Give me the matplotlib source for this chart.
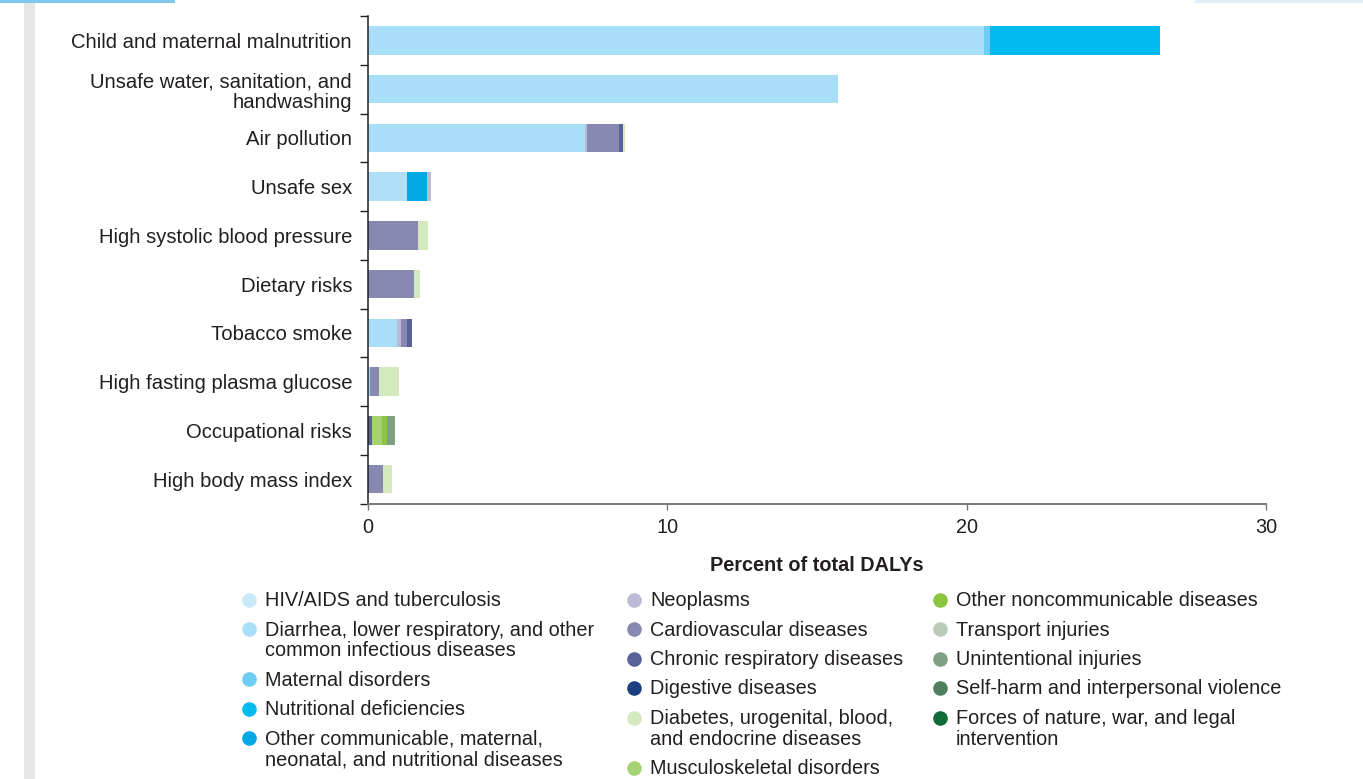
import numpy as np
import matplotlib.pyplot as plt
from matplotlib.patches import Rectangle
from matplotlib.lines import Line2D

plt.rcParams['font.family'] = ['Liberation Sans', 'DejaVu Sans']

W, H = 1363, 779

risks = ['Child and maternal malnutrition',
         'Unsafe water, sanitation, and\nhandwashing',
         'Air pollution',
         'Unsafe sex',
         'High systolic blood pressure',
         'Dietary risks',
         'Tobacco smoke',
         'High fasting plasma glucose',
         'Occupational risks',
         'High body mass index']

# percent of total DALYs, one list per cause, in risk order
hiv_tb        = [0, 0, 0, 1.30, 0, 0, 0, 0, 0, 0]
diarrhea      = [20.57, 15.69, 7.25, 0, 0, 0, 0.98, 0.06, 0, 0]
maternal      = [0.20, 0, 0, 0, 0, 0, 0, 0, 0, 0]
nutritional   = [5.69, 0, 0, 0, 0, 0, 0, 0, 0, 0]
other_comm    = [0, 0, 0, 0.67, 0, 0, 0, 0, 0, 0]
neoplasms     = [0, 0, 0.05, 0.15, 0, 0, 0.11, 0, 0, 0]
cardio        = [0, 0, 1.10, 0, 1.67, 1.53, 0.22, 0.30, 0, 0.50]
chronic_resp  = [0, 0, 0.12, 0, 0, 0, 0.15, 0, 0.15, 0]
digestive     = [0, 0, 0, 0, 0, 0, 0, 0, 0, 0]
diabetes      = [0, 0, 0.05, 0, 0.33, 0.22, 0, 0.66, 0, 0.29]
musculo       = [0, 0, 0, 0, 0, 0, 0, 0, 0.32, 0]
other_ncd     = [0, 0, 0, 0, 0, 0, 0, 0, 0.18, 0]
transport     = [0, 0, 0, 0, 0, 0, 0, 0, 0, 0]
unintentional = [0, 0, 0, 0, 0, 0, 0, 0, 0.26, 0]
self_harm     = [0, 0, 0, 0, 0, 0, 0, 0, 0, 0]
forces        = [0, 0, 0, 0, 0, 0, 0, 0, 0, 0]

causes = ['HIV/AIDS and tuberculosis',
          'Diarrhea, lower respiratory, and other\ncommon infectious diseases',
          'Maternal disorders',
          'Nutritional deficiencies',
          'Other communicable, maternal,\nneonatal, and nutritional diseases',
          'Neoplasms',
          'Cardiovascular diseases',
          'Chronic respiratory diseases',
          'Digestive diseases',
          'Diabetes, urogenital, blood,\nand endocrine diseases',
          'Musculoskeletal disorders',
          'Other noncommunicable diseases',
          'Transport injuries',
          'Unintentional injuries',
          'Self-harm and interpersonal violence',
          'Forces of nature, war, and legal\nintervention']
values = [hiv_tb, diarrhea, maternal, nutritional, other_comm, neoplasms, cardio,
          chronic_resp, digestive, diabetes, musculo, other_ncd, transport,
          unintentional, self_harm, forces]
colors = ['#c8e9f9', '#a9def8', '#6dcdf2', '#00bbf0', '#00a8e4',
          '#babbd6', '#8789b0', '#58629a', '#1c3f7f',
          '#d4e9bd', '#a6d274', '#8cc63f',
          '#b9cbb7', '#7fa182', '#4f7f5e', '#0f6b39']
# the HIV segment prints a shade darker than its legend dot
bar_colors = ['#b0e0f8'] + colors[1:]

txt = '#231f20'
fs = 14.3

fig = plt.figure(figsize=(W / 100, H / 100), dpi=100)
ax = fig.add_axes([368 / W, 1 - 503.5 / H, (1266 - 368) / W, (503.5 - 16) / H])

y = np.arange(len(risks))
left = np.zeros(len(risks))
for vals, c in zip(values, bar_colors):
    vals = np.array(vals)
    ax.barh(y, vals, left=left, height=0.58, color=c, linewidth=0)
    left += vals

ax.set_xlim(0, 30)
ax.set_ylim(len(risks) - 0.5, -0.5)
ax.set_xticks([0, 10, 20, 30])
ax.set_yticks(np.arange(len(risks) + 1) - 0.5)
ax.set_yticklabels([])
ax.set_yticks(y, minor=True)
ax.set_yticklabels(risks, minor=True, fontsize=14.6, color=txt, linespacing=1.1)
ax.tick_params(axis='y', which='major', length=5.8, width=1, color=txt)
ax.tick_params(axis='y', which='minor', length=0, pad=11.5)
ax.tick_params(axis='x', length=4.3, width=1, color='#777777', labelsize=fs, labelcolor=txt, pad=6)

for s in ['top', 'right']:
    ax.spines[s].set_visible(False)
ax.spines['left'].set_color(txt)
ax.spines['left'].set_linewidth(1.1)
ax.spines['bottom'].set_color('#777777')
ax.spines['bottom'].set_linewidth(1.4)

ax.set_xlabel('Percent of total DALYs', fontsize=fs, fontweight='bold', color=txt, labelpad=14)

# legend laid out by hand, three columns
cols = [(249, causes[0:5], colors[0:5]),
        (634, causes[5:11], colors[5:11]),
        (940, causes[11:16], colors[11:16])]
for mx, labs, cs in cols:
    py = 599.5
    for lab, c in zip(labs, cs):
        fig.add_artist(Line2D([mx / W], [1 - py / H], marker='o', markersize=10.5,
                              color=c, markeredgewidth=0, transform=fig.transFigure))
        lines = lab.split('\n')
        for i, ln in enumerate(lines):
            fig.text((mx + 16) / W, 1 - (py + 1 + i * 21) / H, ln, fontsize=fs,
                     color=txt, va='center')
        py += 29.5 if len(lines) == 1 else 50

# page decorations
fig.add_artist(Rectangle((24 / W, 0), 11 / W, 1, color='#e6e6e6', lw=0,
                         transform=fig.transFigure))
fig.add_artist(Rectangle((0, 1 - 3 / H), 175 / W, 3 / H, color='#7fc8ec', lw=0,
                         transform=fig.transFigure))
fig.add_artist(Rectangle((1195 / W, 1 - 3 / H), 168 / W, 3 / H, color='#e0edf7', lw=0,
                         transform=fig.transFigure))

fig.savefig('out.png', dpi=100)
